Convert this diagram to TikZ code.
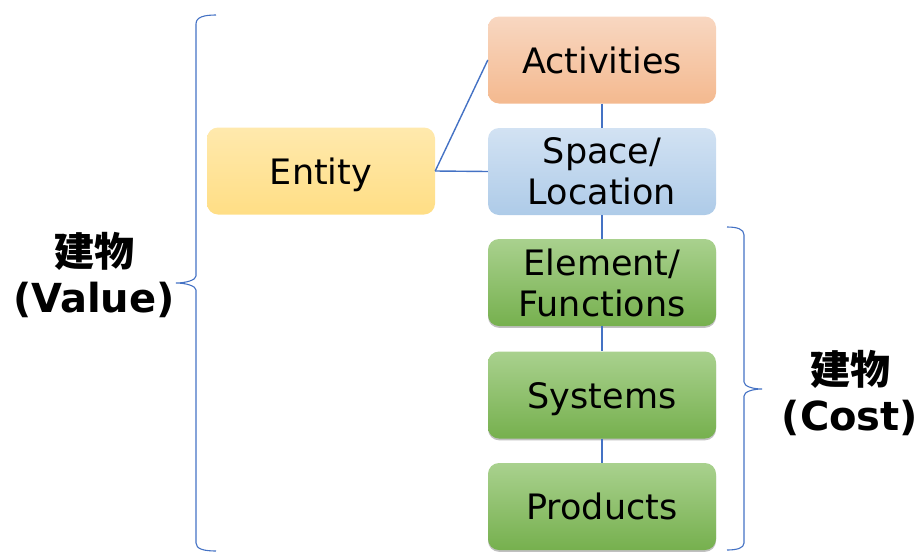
\documentclass[tikz,border=0pt]{standalone}
\usepackage{fontspec}
\setmainfont{DejaVu Sans}
\newfontfamily\jpbold{Noto Sans CJK JP Bold}
\usetikzlibrary{shadows}
\definecolor{linkblue}{HTML}{4472C4}
\definecolor{entitytop}{HTML}{FFE9AD}
\definecolor{entitybot}{HTML}{FFDE85}
\definecolor{acttop}{HTML}{F8D7C1}
\definecolor{actbot}{HTML}{F4B98F}
\definecolor{spacetop}{HTML}{D2E2F3}
\definecolor{spacebot}{HTML}{AECBE8}
\definecolor{greentop}{HTML}{A9D18E}
\definecolor{greenbot}{HTML}{76B04E}
\begin{document}
\begin{tikzpicture}[x=1pt,y=-1pt,
  card/.style={minimum width=228pt,minimum height=87pt,inner sep=0pt,
    rounded corners=11pt,align=center,
    font=\fontsize{35}{41}\selectfont},
  oneline/.style={text height=26pt,text depth=0pt},
  entitycard/.style={card,top color=entitytop,bottom color=entitybot},
  actcard/.style={card,top color=acttop,bottom color=actbot},
  spacecard/.style={card,top color=spacetop,bottom color=spacebot},
  greencard/.style={card,top color=greentop,bottom color=greenbot,
    drop shadow={shadow xshift=0pt,shadow yshift=-1.8pt,fill=black!55,opacity=.45}},
  link/.style={draw=linkblue,line width=1.4pt},
  bracket/.style={draw=linkblue,line width=1.1pt},
  sidelabel/.style={align=center,font=\fontsize{40}{46}\selectfont\bfseries}
]
\useasboundingbox (0,0) rectangle (923,552);

% hierarchy boxes
\node[entitycard,oneline] (entity) at (321,171) {Entity};
\node[actcard,oneline]    (act)    at (602,60)  {Activities};
\node[spacecard]  (space)  at (602,171.5) {Space/\\Location};
\node[greencard]  (elem)   at (602,282.5) {Element/\\Functions};
\node[greencard,oneline]  (sys)    at (602,395) {Systems};
\node[greencard,oneline]  (prod)   at (602,506.5) {Products};

% connectors
\draw[link] (entity.east) -- (act.west);
\draw[link] (entity.east) -- (space.west);
\draw[link] (act.south) -- (space.north);
\draw[link] (space.south) -- (elem.north);
\draw[link] (elem.south) -- (sys.north);
\draw[link] (sys.south) -- (prod.north);

% left bracket (value)
\coordinate (vtop) at (216,15);
\coordinate (vtip) at (176,283);
\coordinate (vbot) at (216,551);
\draw[bracket] (vtop) .. controls (204,15) and (196,17) .. (196,24)
  -- (196,276) .. controls (196,280) and (186,283) .. (vtip)
  .. controls (186,283) and (196,286) .. (196,290)
  -- (196,543) .. controls (196,549) and (204,551) .. (vbot);

% right bracket (cost)
\coordinate (ctop) at (727,227);
\coordinate (ctip) at (762,389);
\coordinate (cbot) at (727,550);
\draw[bracket] (ctop) .. controls (737,227) and (744,229) .. (744,235)
  -- (744,382) .. controls (744,386) and (752,389) .. (ctip)
  .. controls (752,389) and (744,392) .. (744,396)
  -- (744,543) .. controls (744,548) and (737,550) .. (cbot);

% side labels
\node[sidelabel] (valuelbl) at (94,275) {{\jpbold 建物}\\(Value)};
\node[sidelabel] (costlbl)  at (850,393) {{\jpbold 建物}\\(Cost)};
\end{tikzpicture}
\end{document}
